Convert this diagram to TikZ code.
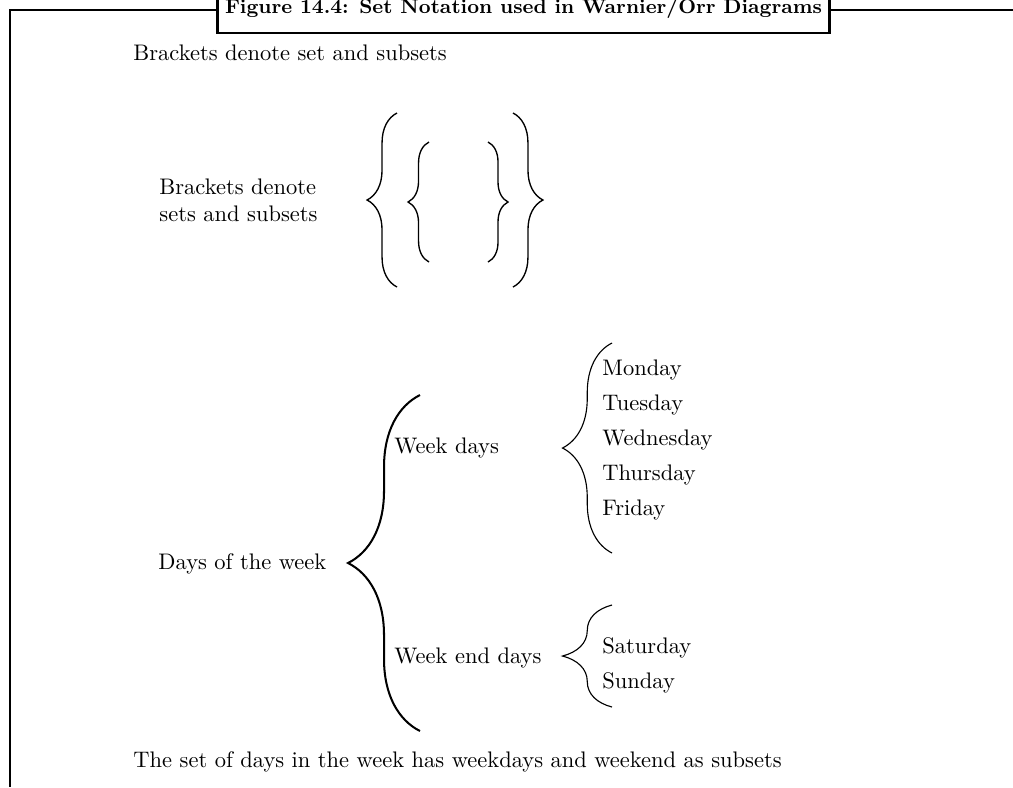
\documentclass[tikz,border=0pt]{standalone}
\usetikzlibrary{decorations.pathreplacing}

\begin{document}
\begin{tikzpicture}[
  x=0.01562cm, y=-0.01562cm,
  lbl/.style={anchor=base west, inner sep=0pt},
  frm/.style={line width=1.3pt},
  brc/.style={decorate, decoration={brace, amplitude=#1}, line width=0.6pt}
]
  \useasboundingbox (0,0) rectangle (1013,787);
  % frame and title tab
  \coordinate (tl) at (10,10);
  \coordinate (tr) at (1013,10);
  \coordinate (bl) at (10,787);
  \node[draw, frm, fill=white, minimum width=270.5pt, minimum height=22.2pt, font=\fontsize{8.9}{10}\bfseries] (title) at (523.5,8) {Figure 14.4: Set Notation used in Warnier/Orr Diagrams};
  \draw[frm] (title.west |- tl) -- (tl) -- (bl);
  \draw[frm] (title.east |- tl) -- (tr);

  % set brackets
  \node[lbl] (intro) at (133,60) {Brackets denote set and subsets};
  \node[anchor=west, inner sep=0pt, align=left] (note) at (159,200) {Brackets denote\\ sets and subsets};
  \draw[brc=13.3pt] (397,287) -- (397,113);
  \draw[brc=9.3pt] (429,262) -- (429,142);
  \draw[brc=8.9pt] (488,142) -- (488,262);
  \draw[brc=13.3pt] (513,113) -- (513,287);

  % days of the week
  \node[lbl] (days) at (158,569) {Days of the week};
  \node[lbl] (wkdays) at (394,453) {Week days};
  \node[lbl] (wkend) at (394,663) {Week end days};
  \foreach \d [count=\i] in {Monday,Tuesday,Wednesday,Thursday,Friday}
    \node[lbl] (d\i) at (602,340+35*\i) {\d};
  \node[lbl] (sat) at (602,653) {Saturday};
  \node[lbl] (sun) at (602,688) {Sunday};
  \draw[brc=32pt, line width=0.9pt] (420,731) -- (420,395);
  \draw[brc=22pt, line width=0.5pt] (612,553) -- (612,343);
  \draw[brc=22pt, line width=0.5pt] (612,707) -- (612,605);

  \node[lbl] (caption) at (133,767) {The set of days in the week has weekdays and weekend as subsets};
\end{tikzpicture}
\end{document}
